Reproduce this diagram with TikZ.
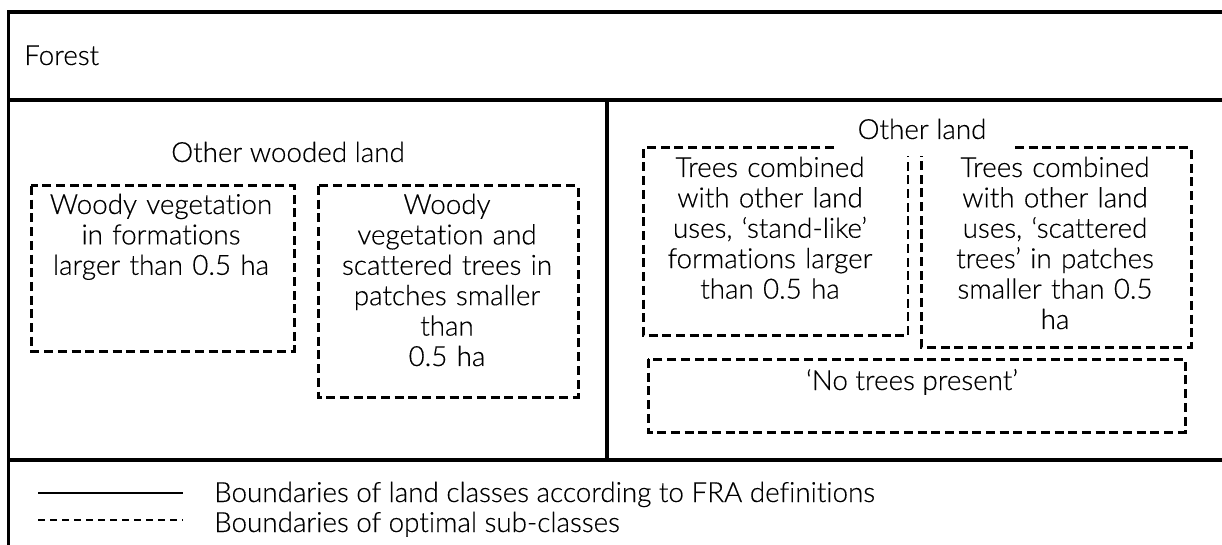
\documentclass[tikz,border=0pt]{standalone}
\usepackage{fontspec}
\setmainfont{Lato Light}[Ligatures=NoCommon]
\newfontfamily\labelfont{Lato Light}[Ligatures=NoCommon,FakeBold=0.35]
\begin{document}
\begin{tikzpicture}[x=1pt,y=-1pt,
  frame/.style={line width=3.4pt},
  subclass/.style={line width=3pt,dash pattern=on 9pt off 4.7pt},
  label/.style={inner sep=0pt,anchor=base,font=\labelfont\fontsize{27.8}{30.4}\selectfont},
  boxtext/.style={label,align=center,text width=300pt},
  legendline/.style={line width=2pt},
  legenddash/.style={line width=2.2pt,dash pattern=on 7pt off 5pt}]
\useasboundingbox (0,0) rectangle (1222,545);

% land class boundaries
\draw[frame] (8.5,545) -- (8.5,12) -- (1222,12);
\draw[frame] (8.5,100) -- (1222,100);
\draw[frame] (8.5,460) -- (1222,460);
\draw[frame] (607,100) -- (607,460);

% class headings
\node[label,anchor=base west] (forest) at (24,65) {Forest};
\node[label] (owl) at (288,162) {Other wooded land};
\node[label] (ol) at (922,139) {Other land};

% other wooded land sub-classes
\draw[subclass] (31,186) rectangle (294,351);
\node[boxtext] (owl1) at (161,214) {Woody vegetation\\in formations\\larger than 0.5 ha};
\draw[subclass] (318,186) rectangle (578,397);
\node[boxtext] (owl2) at (447,214) {Woody\\vegetation and\\scattered trees in\\patches smaller\\than\\0.5 ha};

% other land sub-classes
\draw[subclass] (834,148) -- (643,148) -- (643,335) -- (908,335);
\draw[subclass,line width=2pt] (908,335) -- (908,156);
\node[boxtext] (ol1) at (770,177) {Trees combined\\with other land\\uses, ‘stand-like’\\formations larger\\than 0.5 ha};
\draw[subclass] (1015,148) -- (1191,148) -- (1191,347) -- (921,347) -- (921,156);
\node[boxtext] (ol2) at (1055,177) {Trees combined\\with other land\\uses, ‘scattered\\trees’ in patches\\smaller than 0.5\\ha};
\draw[subclass] (648,359) rectangle (1185,432);
\node[label] (ol3) at (912,390) {‘No trees present’};

% legend
\coordinate (s1) at (38,493);
\coordinate (s2) at (183,493);
\coordinate (d1) at (38,520);
\coordinate (d2) at (183,520);
\draw[legendline] (s1) -- (s2);
\draw[legenddash] (d1) -- (d2);
\node[label,anchor=base west] (leg1) at (214,502) {Boundaries of land classes according to FRA definitions};
\node[label,anchor=base west] (leg2) at (214,532) {Boundaries of optimal sub-classes};
\end{tikzpicture}
\end{document}
